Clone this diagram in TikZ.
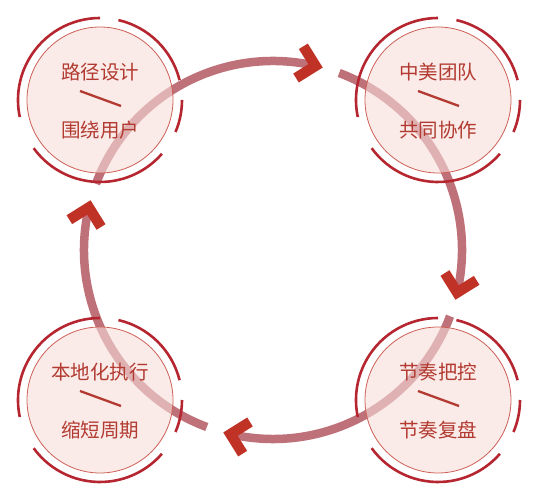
\documentclass[tikz,border=0pt]{standalone}
\usepackage{fontspec}
\newfontfamily\cjk{Noto Sans CJK SC}
\usetikzlibrary{calc}
\definecolor{pinkfill}{RGB}{246,220,217}
\definecolor{ringc}{RGB}{191,113,121}
\definecolor{chevc}{RGB}{192,50,38}
\definecolor{arcc}{RGB}{182,38,48}
\definecolor{borderc}{RGB}{205,95,85}
\definecolor{textc}{RGB}{178,58,48}
\tikzset{
  ring/.style={draw=ringc, line width=8.5pt, line cap=butt},
  chevron/.style={draw=chevc, line width=10.5pt, line join=miter, line cap=butt},
  stagecircle/.style={circle, minimum size=146pt, inner sep=0pt, draw=borderc, line width=0.8pt, fill=pinkfill, fill opacity=0.6},
  outerarc/.style={draw=arcc, line width=2.6pt},
  stagetext/.style={text=textc, font=\cjk\fontsize{19.5}{22}\selectfont, inner sep=0pt},
  slash/.style={draw=textc, line width=2.3pt},
}
\newcommand\stagenode[5]{%
  \node[stagecircle] (#1) at (#2,#3) {};
  \foreach \s/\e in {90/192, 14/77, -23/0, 216/319}
    \draw[outerarc] ($(#1.center)+(\s:82)$) arc[start angle=\s, end angle=\e, radius=82];
  \node[stagetext] (#1-t) at ($(#1.center)+(0,28)$) {#4};
  \node[stagetext] (#1-b) at ($(#1.center)+(0,-30)$) {#5};
  \coordinate (#1-s1) at ($(#1.center)+(-20,9)$);
  \coordinate (#1-s2) at ($(#1.center)+(21,-6)$);
  \draw[slash] (#1-s1) -- (#1-s2);
}
\begin{document}
\begin{tikzpicture}[x=1pt,y=1pt]
\useasboundingbox (0,0) rectangle (538,500);
\coordinate (C) at (273,250);
% ring segments
\foreach \s/\e in {159.5/77, 69.5/-13, -20.5/-103, -110.5/-193}
  \draw[ring] ($(C)+(\s:189)$) arc[start angle=\s, end angle=\e, radius=189];
% stages
\stagenode{tl}{100}{400}{路径设计}{围绕用户}
\stagenode{tr}{438}{400}{中美团队}{共同协作}
\stagenode{br}{438}{100}{节奏把控}{节奏复盘}
\stagenode{bl}{100}{100}{本地化执行}{缩短周期}
% chevrons
\foreach \t in {77,-13,-103,-193}
  \draw[chevron] ($(C)+(\t:189)+(\t+45:23)$) -- ($(C)+(\t:189)$) -- ($(C)+(\t:189)+(\t+135:23)$);
\end{tikzpicture}
\end{document}
